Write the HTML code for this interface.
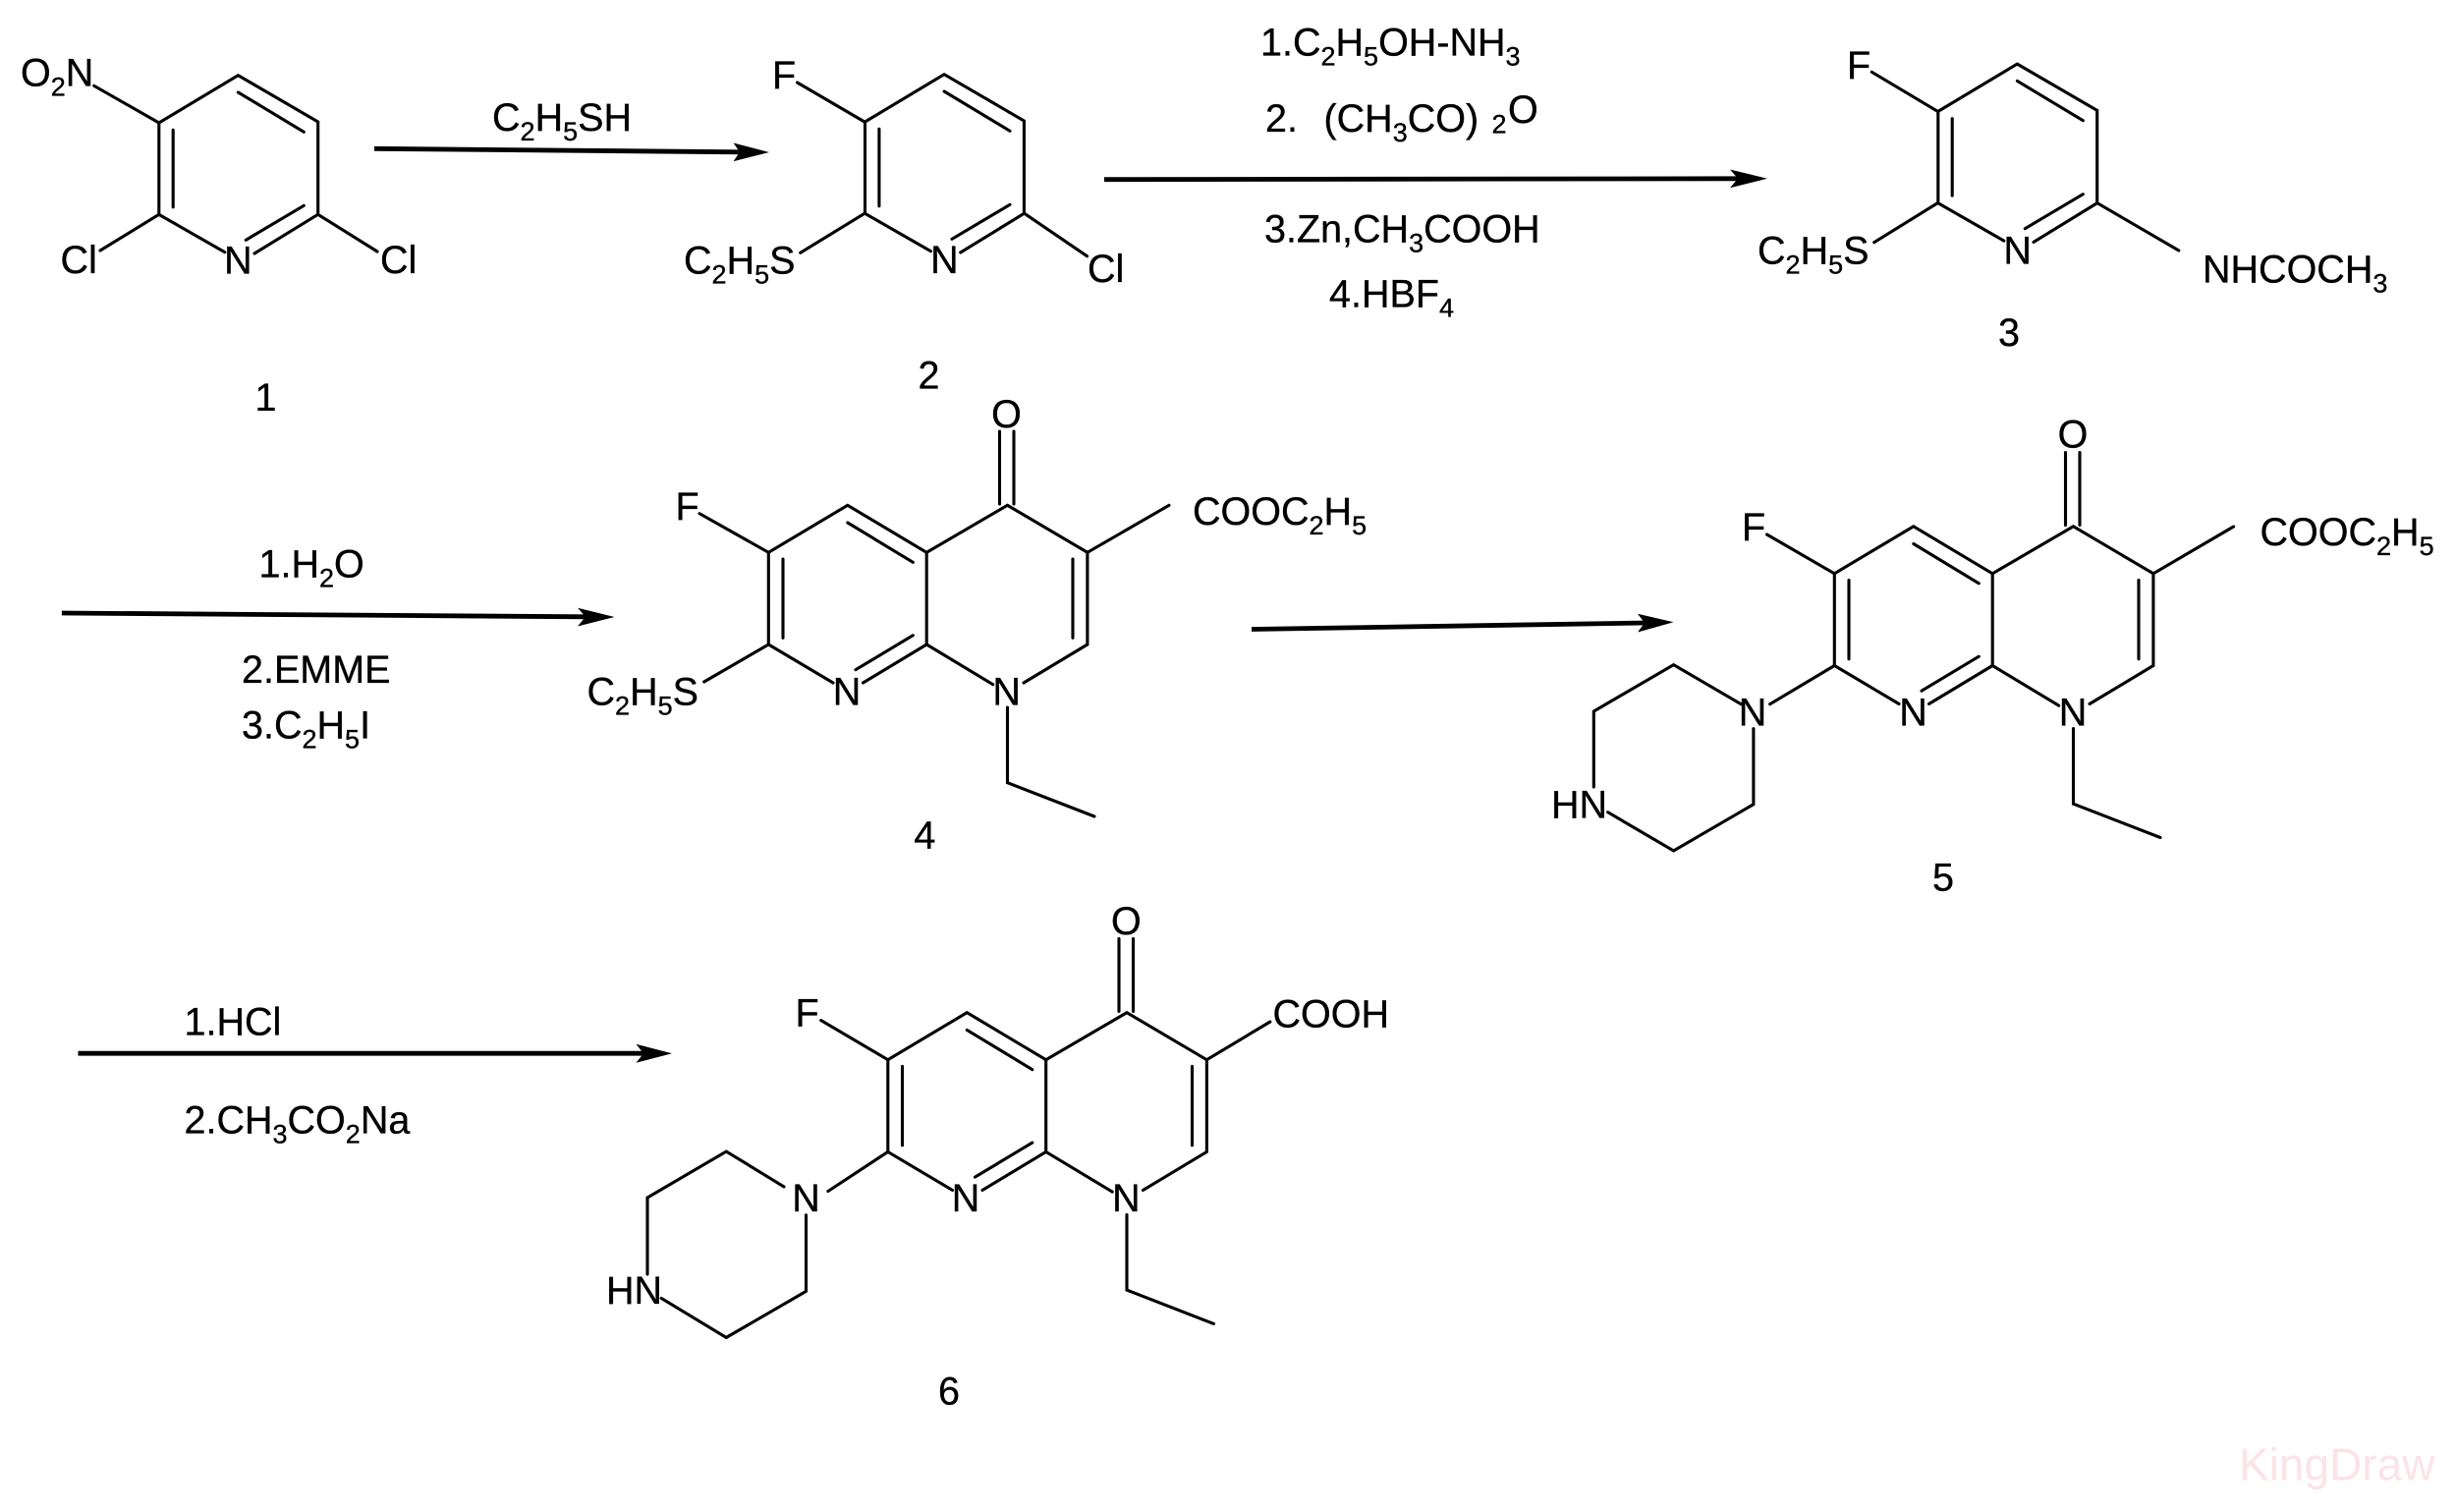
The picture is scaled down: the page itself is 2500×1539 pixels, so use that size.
<!DOCTYPE html>
<html>
<head>
<meta charset="utf-8">
<style>
html,body{margin:0;padding:0;background:#fff;width:2500px;height:1539px;overflow:hidden}
svg{display:block}
text{font-family:"Liberation Sans",Arial,sans-serif;font-size:39.5px;fill:#000;stroke:#000;stroke-width:.35}
.s{font-size:27px}
.b{fill:none;stroke:#000;stroke-width:3.1;stroke-linecap:round;stroke-linejoin:miter}
.a{fill:none;stroke:#000;stroke-width:4.8}
.m{text-anchor:middle}
.w{font-size:46px;fill:#fbe3e6;stroke:none}
</style>
</head>
<body>
<svg width="2500" height="1539" viewBox="0 0 2500 1539" xmlns="http://www.w3.org/2000/svg">
<rect width="2500" height="1539" fill="#fff"/>

<!-- Pyridine rings 1,2,3 -->
<path class="b" d="M242.4 76.7L323.7 124V218.3L259 258M228.8 256.7L161.8 218.3V125L242.4 76.7M242.4 94L309.3 134.3M309.3 209.3L250.3 244.3M176.2 132.3V210.7"/>
<path class="b" transform="translate(718.7,-1)" d="M242.4 76.7L323.7 124V218.3L259 258M228.8 256.7L161.8 218.3V125L242.4 76.7M242.4 94L309.3 134.3M309.3 209.3L250.3 244.3M176.2 132.3V210.7"/>
<path class="b" transform="translate(1811,-11.6)" d="M242.4 76.7L323.7 124V218.3L259 258M228.8 256.7L161.8 218.3V125L242.4 76.7M242.4 94L309.3 134.3M309.3 209.3L250.3 244.3M176.2 132.3V210.7"/>

<!-- Naphthyridine rings 4,5,6 -->
<path class="b" d="M782.3 562.3L862.8 514.3L943.2 562.3L1025.5 514.3L1106.9 562.3V656L1042 695M1010.7 696.7L943.2 656V562.3M943.2 656L878.5 695M848 695L782.3 656V562.3M862.8 532L929.3 572.3M929.3 646.7L871 681.7M797 569V649.3M1092 569V649.3M1017.5 439V513M1032 439V513M1025.5 720V796.7L1114 831"/>
<path class="b" transform="translate(1085,21.5)" d="M782.3 562.3L862.8 514.3L943.2 562.3L1025.5 514.3L1106.9 562.3V656L1042 695M1010.7 696.7L943.2 656V562.3M943.2 656L878.5 695M848 695L782.3 656V562.3M862.8 532L929.3 572.3M929.3 646.7L871 681.7M797 569V649.3M1092 569V649.3M1017.5 439V513M1032 439V513M1025.5 720V796.7L1114 831"/>
<path class="b" transform="translate(121.5,516.4)" d="M782.3 562.3L862.8 514.3L943.2 562.3L1025.5 514.3L1106.9 562.3V656L1042 695M1010.7 696.7L943.2 656V562.3M943.2 656L878.5 695M848 695L782.3 656V562.3M862.8 532L929.3 572.3M929.3 646.7L871 681.7M797 569V649.3M1092 569V649.3M1017.5 439V513M1032 439V513M1025.5 720V796.7L1114 831"/>

<!-- Substituent bonds -->
<path class="b" d="M161.8 125L95.7 87.3M161.8 218.3L102 255M323.7 218.3L384 256"/>
<path class="b" d="M880 124L811.5 84M880 217.3L814.7 257.3M1042.8 217.3L1106.5 260.7"/>
<path class="b" d="M1972.3 113.3L1905.3 73.3M1972.3 206.7L1907.7 246.7M2134.9 206.7L2217.8 255"/>
<path class="b" d="M782.3 562.3L712 522.7M782.3 656L716.7 694M1106.9 562.3L1190 514.3"/>
<path class="b" d="M1867.3 583.8L1798.5 544M1867.3 677.5L1801.7 716.7M2191.9 583.8L2273.6 536"/>
<path class="b" d="M1772.2 716.7L1703.6 676.7L1622.3 724V801M1636.6 826.7L1703.6 866L1784.9 818.7V741.7"/>
<path class="b" d="M903.8 1078.7L835.7 1038.6M903.8 1172.4L842.9 1212.5M1228.4 1078.7L1292.9 1040"/>
<path class="b" d="M798 1207.9L739.3 1172L659 1219V1297M673.2 1321.4L739.3 1361.4L820.5 1314.3V1236.8"/>

<!-- Arrows -->
<path class="a" d="M381 151.3L754 154.8"/><polygon points="783,155 746.5,145.5 753,154.8 746.5,164.2" fill="#000"/>
<path class="a" d="M1124 182.7L1770 181.8"/><polygon points="1799,181.7 1761,172.5 1769,181.8 1761,191.2" fill="#000"/>
<path class="a" d="M62.9 624L597 627.8"/><polygon points="625.5,628 588,618.8 596,627.8 588,637.5" fill="#000"/>
<path class="a" d="M1274 640.5L1675 634"/><polygon points="1703.5,633.3 1667,624.8 1674,634 1667,643.5" fill="#000"/>
<path class="a" d="M79.5 1072.2L656 1072.2"/><polygon points="684,1072.2 647.5,1062.7 655,1072.2 647.5,1081.7" fill="#000"/>

<!-- Compound 1 -->
<text x="21" y="87.5">O<tspan class="s" dy="10">2</tspan><tspan dy="-10">N</tspan></text>
<text x="61.5" y="278">Cl</text>
<text class="m" x="242.4" y="278.5">N</text>
<text x="387" y="278">Cl</text>
<text class="m" x="270.5" y="418">1</text>

<!-- Step 1 -->
<text x="501" y="133">C<tspan class="s" dy="10">2</tspan><tspan dy="-10">H</tspan><tspan class="s" dy="10">5</tspan><tspan dy="-10">SH</tspan></text>

<!-- Compound 2 -->
<text x="786" y="90">F</text>
<text x="696" y="278.3">C<tspan class="s" dy="10">2</tspan><tspan dy="-10">H</tspan><tspan class="s" dy="10">5</tspan><tspan dy="-10">S</tspan></text>
<text class="m" x="961.4" y="278">N</text>
<text x="1107" y="287">Cl</text>
<text class="m" x="945.5" y="395.7">2</text>

<!-- Step 2 -->
<text x="1283" y="56.7">1.C<tspan class="s" dy="10">2</tspan><tspan dy="-10">H</tspan><tspan class="s" dy="10">5</tspan><tspan dy="-10">OH-NH</tspan><tspan class="s" dy="10">3</tspan></text>
<text x="1288" y="134">2.</text>
<text x="1347.5" y="134">(CH<tspan class="s" dy="10">3</tspan><tspan dy="-10">CO)</tspan></text>
<text class="s" x="1518.5" y="135.5">2</text>
<text x="1535" y="125">O</text>
<text x="1287" y="246.7">3.Zn,CH<tspan class="s" dy="10">3</tspan><tspan dy="-10">COOH</tspan></text>
<text x="1353" y="312.7">4.HBF<tspan class="s" dy="10">4</tspan></text>

<!-- Compound 3 -->
<text x="1880" y="80">F</text>
<text x="1789" y="268.3">C<tspan class="s" dy="10">2</tspan><tspan dy="-10">H</tspan><tspan class="s" dy="10">5</tspan><tspan dy="-10">S</tspan></text>
<text class="m" x="2053.6" y="268.3">N</text>
<text x="2242" y="287.3">NHCOCH<tspan class="s" dy="10">3</tspan></text>
<text class="m" x="2045" y="352">3</text>

<!-- Step 3 -->
<text x="263.5" y="587.3">1.H<tspan class="s" dy="10">2</tspan><tspan dy="-10">O</tspan></text>
<text x="246" y="695">2.EMME</text>
<text x="246" y="751.7">3.C<tspan class="s" dy="10">2</tspan><tspan dy="-10">H</tspan><tspan class="s" dy="10">5</tspan><tspan dy="-10">I</tspan></text>

<!-- Compound 4 -->
<text class="m" x="1024.5" y="435">O</text>
<text x="687.5" y="529">F</text>
<text x="1214" y="534">COOC<tspan class="s" dy="10">2</tspan><tspan dy="-10">H</tspan><tspan class="s" dy="10">5</tspan></text>
<text x="597.5" y="717.3">C<tspan class="s" dy="10">2</tspan><tspan dy="-10">H</tspan><tspan class="s" dy="10">5</tspan><tspan dy="-10">S</tspan></text>
<text class="m" x="862" y="717.3">N</text>
<text class="m" x="1024.6" y="717.3">N</text>
<text class="m" x="941.4" y="863.3">4</text>

<!-- Compound 5 -->
<text class="m" x="2110" y="455.7">O</text>
<text x="1773" y="550">F</text>
<text x="2300.5" y="555">COOC<tspan class="s" dy="10">2</tspan><tspan dy="-10">H</tspan><tspan class="s" dy="10">5</tspan></text>
<text class="m" x="1784" y="738.3">N</text>
<text class="m" x="1947.5" y="738.3">N</text>
<text class="m" x="2110" y="738.3">N</text>
<text x="1579" y="832.3">HN</text>
<text class="m" x="1978" y="906.7">5</text>

<!-- Step 5 -->
<text x="187.5" y="1053.6">1.HCl</text>
<text x="187.5" y="1153.6">2.CH<tspan class="s" dy="10">3</tspan><tspan dy="-10">CO</tspan><tspan class="s" dy="10">2</tspan><tspan dy="-10">Na</tspan></text>

<!-- Compound 6 -->
<text class="m" x="1146.4" y="951">O</text>
<text x="809.5" y="1044.6">F</text>
<text x="1295.5" y="1045.4">COOH</text>
<text class="m" x="820.5" y="1232.9">N</text>
<text class="m" x="983" y="1232.9">N</text>
<text class="m" x="1146.4" y="1232.9">N</text>
<text x="617" y="1326.8">HN</text>
<text class="m" x="966" y="1429.3">6</text>

<!-- Watermark -->
<text class="w" x="2279" y="1506.7">KingDraw</text>
</svg>
</body>
</html>
